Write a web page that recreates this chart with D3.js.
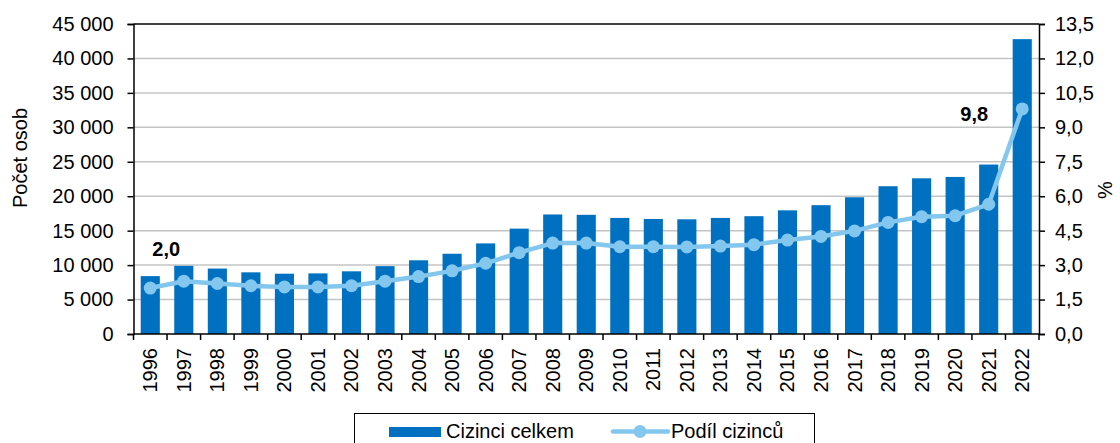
<!DOCTYPE html>
<html>
<head>
<meta charset="utf-8">
<script src="https://cdn.jsdelivr.net/npm/d3@7"></script>
<style>
  body { margin: 0; background: #fff; }
  svg { display: block; font-family: "Liberation Sans", Arial, sans-serif; }
</style>
</head>
<body>
<svg id="chart" width="1120" height="443"></svg>
<script>
// données
const years = ['1996','1997','1998','1999','2000','2001','2002','2003','2004','2005','2006','2007','2008',
  '2009','2010','2011','2012','2013','2014','2015','2016','2017','2018','2019','2020','2021','2022'];
const cizinciCelkem = [8400, 9900, 9500, 8950, 8750, 8800, 9100, 9850, 10700, 11650, 13150, 15300, 17350,
  17300, 16850, 16700, 16650, 16850, 17100, 17950, 18700, 19850, 21450, 22600, 22800, 24600, 42800];
const podilCizincu = [2.0, 2.3, 2.2, 2.1, 2.05, 2.05, 2.1, 2.3, 2.5, 2.75, 3.08, 3.54, 3.96,
  3.96, 3.8, 3.8, 3.79, 3.83, 3.89, 4.09, 4.25, 4.49, 4.86, 5.11, 5.15, 5.65, 9.8];
const leftTicks = [0, 5000, 10000, 15000, 20000, 25000, 30000, 35000, 40000, 45000];
const rightTicks = [0, 1.5, 3, 4.5, 6, 7.5, 9, 10.5, 12, 13.5];
const annotations = [{ i: 0, text: '2,0' }, { i: 26, text: '9,8' }];

const barColor = '#0070c0';
const lineColor = '#83c7ef';
const fs = 20;

const svg = d3.select('#chart');
const plotLeft = 133.5, plotRight = 1039, plotTop = 24, plotBottom = 334;

const x = d3.scaleBand().domain(years).range([plotLeft, plotRight]).paddingInner(0.43).paddingOuter(0.215);
const step = x.step();
const yL = d3.scaleLinear().domain([0, 45000]).range([plotBottom, plotTop]);
const yR = d3.scaleLinear().domain([0, 13.5]).range([plotBottom, plotTop]);

// grille
svg.append('g')
  .selectAll('line')
  .data(leftTicks.slice(1, -1))
  .enter().append('line')
  .attr('x1', plotLeft).attr('x2', plotRight)
  .attr('y1', d => yL(d)).attr('y2', d => yL(d))
  .attr('stroke', '#c4c4c4').attr('stroke-width', 1.5);

// barres
svg.append('g')
  .selectAll('rect')
  .data(cizinciCelkem)
  .enter().append('rect')
  .attr('x', (d, i) => x(years[i]))
  .attr('y', d => yL(d))
  .attr('width', x.bandwidth())
  .attr('height', d => plotBottom - yL(d))
  .attr('fill', barColor);

// cadre du haut
svg.append('line')
  .attr('x1', plotLeft).attr('x2', plotRight).attr('y1', plotTop).attr('y2', plotTop)
  .attr('stroke', '#000').attr('stroke-width', 1.5);

// axes
const fmtL = d => d3.format(',')(d).replace(/,/g, '\u00a0');
const fmtR = d => d3.format('.1f')(d).replace('.', ',');

const axL = svg.append('g')
  .attr('transform', `translate(${plotLeft},0)`)
  .call(d3.axisLeft(yL).tickValues(leftTicks).tickSize(6).tickPadding(14).tickFormat(fmtL));
const axR = svg.append('g')
  .attr('transform', `translate(${plotRight},0)`)
  .call(d3.axisRight(yR).tickValues(rightTicks).tickSize(6).tickPadding(10).tickFormat(fmtR));
[axL, axR].forEach(ax => {
  ax.select('.domain').attr('stroke', '#000').attr('stroke-width', 1.5);
  ax.selectAll('.tick line').attr('stroke', '#000').attr('stroke-width', 1.5);
  ax.selectAll('.tick text').attr('font-size', fs).attr('fill', '#000')
    .attr('font-family', '"Liberation Sans", Arial, sans-serif');
});

// axe X
svg.append('line')
  .attr('x1', plotLeft).attr('x2', plotRight).attr('y1', plotBottom).attr('y2', plotBottom)
  .attr('stroke', '#000').attr('stroke-width', 1.5);
svg.append('g')
  .selectAll('line')
  .data(d3.range(years.length + 1))
  .enter().append('line')
  .attr('x1', i => plotLeft + i * step).attr('x2', i => plotLeft + i * step)
  .attr('y1', plotBottom).attr('y2', plotBottom + 6)
  .attr('stroke', '#000').attr('stroke-width', 1.5);
svg.append('g')
  .selectAll('text')
  .data(years)
  .enter().append('text')
  .attr('transform', d => `translate(${x(d) + x.bandwidth() / 2 + 7},${plotBottom + 14}) rotate(-90)`)
  .attr('text-anchor', 'end')
  .attr('font-size', fs)
  .text(d => d);

// titres des axes
svg.append('text')
  .attr('transform', 'translate(27,158) rotate(-90)')
  .attr('text-anchor', 'middle')
  .attr('font-size', fs)
  .text('Počet osob');
svg.append('text')
  .attr('transform', 'translate(1112,190) rotate(-90)')
  .attr('text-anchor', 'middle')
  .attr('font-size', fs)
  .text('%');

// courbe
const cx = i => x(years[i]) + x.bandwidth() / 2;
svg.append('path')
  .datum(podilCizincu)
  .attr('fill', 'none')
  .attr('stroke', lineColor)
  .attr('stroke-width', 4.5)
  .attr('stroke-linejoin', 'round')
  .attr('d', d3.line().x((d, i) => cx(i)).y(d => yR(d)));
svg.append('g')
  .selectAll('circle')
  .data(podilCizincu)
  .enter().append('circle')
  .attr('cx', (d, i) => cx(i))
  .attr('cy', d => yR(d))
  .attr('r', 6.5)
  .attr('fill', lineColor);

// étiquettes
svg.append('g')
  .selectAll('text')
  .data(annotations)
  .enter().append('text')
  .attr('x', d => cx(d.i) + (d.i === 0 ? 16 : -48))
  .attr('y', d => yR(podilCizincu[d.i]) + (d.i === 0 ? -32 : 12))
  .attr('text-anchor', 'middle')
  .attr('font-size', fs)
  .attr('font-weight', 'bold')
  .text(d => d.text);

// légende
const leg = svg.append('g');
leg.append('rect')
  .attr('x', 354.5).attr('y', 413.5).attr('width', 460).attr('height', 40)
  .attr('fill', '#fff').attr('stroke', '#000').attr('stroke-width', 1);
leg.append('rect')
  .attr('x', 389).attr('y', 427).attr('width', 52).attr('height', 10)
  .attr('fill', barColor);
leg.append('text')
  .attr('x', 446).attr('y', 438).attr('font-size', fs)
  .text('Cizinci celkem');
leg.append('line')
  .attr('x1', 613).attr('x2', 668).attr('y1', 431.5).attr('y2', 431.5)
  .attr('stroke', lineColor).attr('stroke-width', 4.5).attr('stroke-linecap', 'round');
leg.append('circle')
  .attr('cx', 640).attr('cy', 431.5).attr('r', 6.5).attr('fill', lineColor);
leg.append('text')
  .attr('x', 671).attr('y', 438).attr('font-size', fs)
  .text('Podíl cizinců');
</script>
</body>
</html>
